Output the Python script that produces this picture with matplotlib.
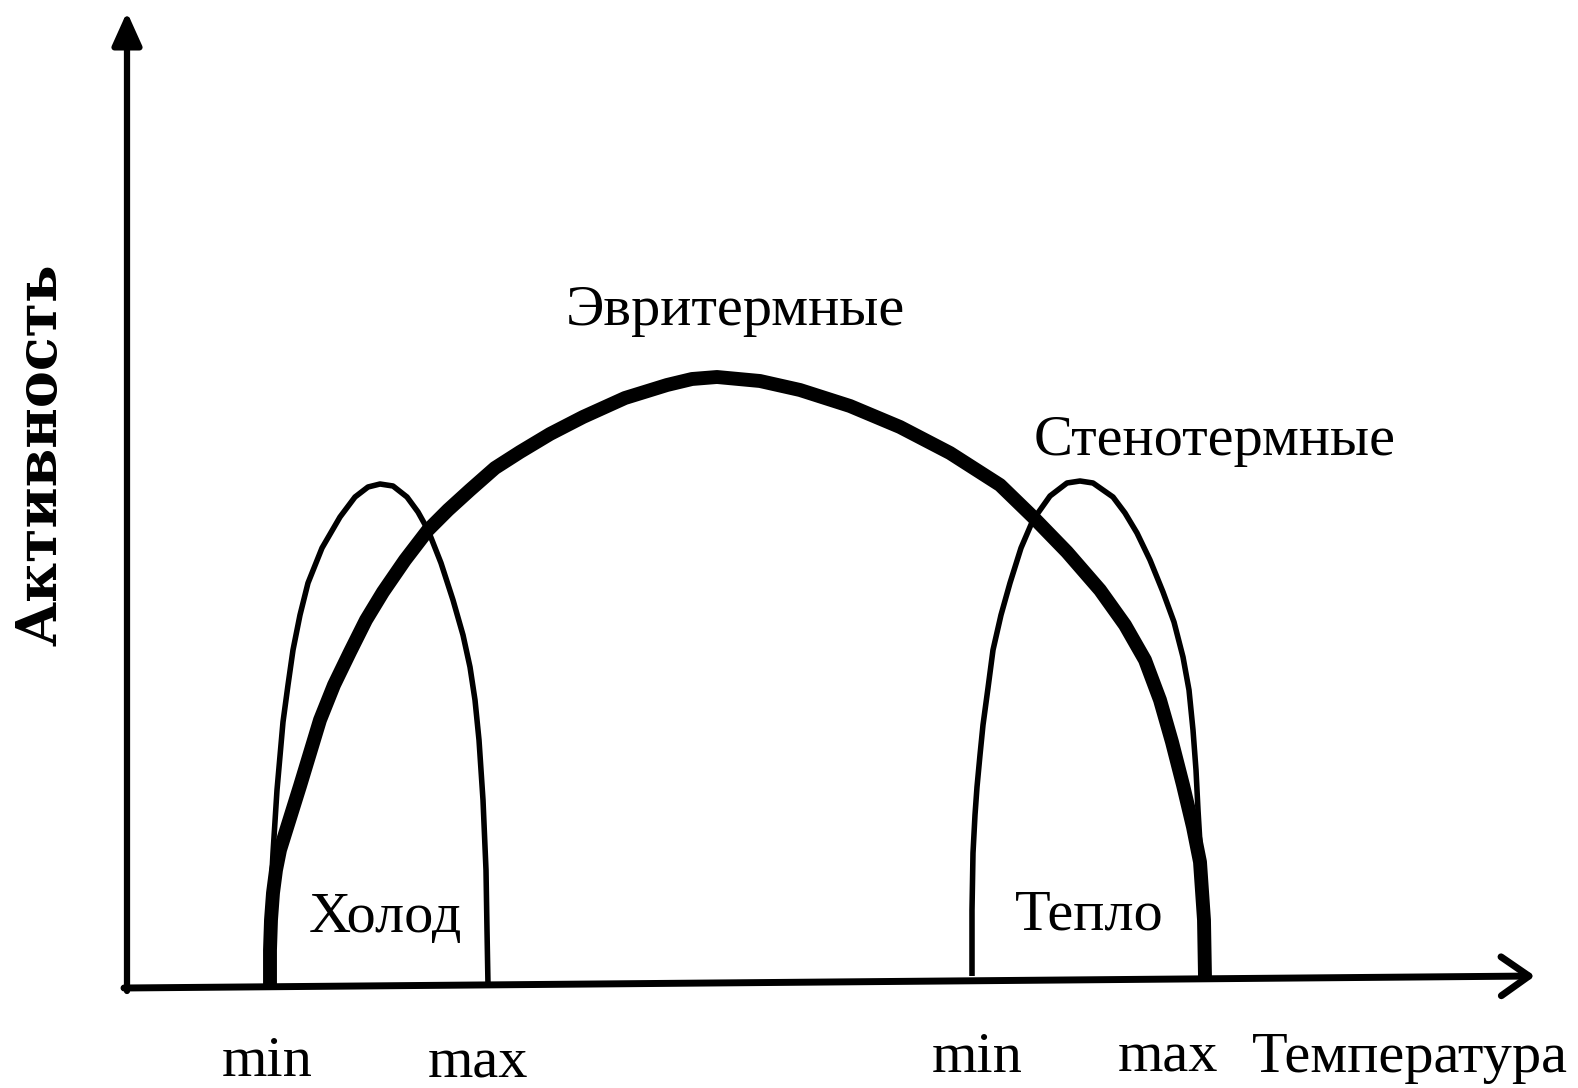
import matplotlib
matplotlib.use("Agg")
import matplotlib.pyplot as plt

# Schematic: thermal tolerance curves (temperature vs activity)
# x = temperature, y = activity (arbitrary units)

# Эвритермные (wide range, thick line)
eury_t = [143, 143, 144, 146, 149, 153, 163, 173, 183, 193, 207, 223, 239,
          256, 278, 301, 321, 343, 368, 393, 423, 456, 498, 540, 565, 590,
          633, 673, 723, 773, 823, 873, 906, 940, 973, 998, 1018, 1033,
          1045, 1056, 1066, 1073, 1077, 1078]
eury_a = [3, 38, 68, 95, 118, 138, 170, 202, 235, 268, 303, 336, 368,
          396, 428, 458, 478, 498, 520, 536, 554, 571, 590, 603, 609, 611,
          607, 598, 582, 561, 535, 503, 471, 436, 398, 363, 328, 288,
          246, 203, 161, 126, 68, 11]

# Стенотермные, cold ("Холод")
cold_t = [143, 143, 144, 146, 150, 156, 161, 166, 173, 181, 195, 213, 228,
          241, 253, 266, 280, 291, 301, 314, 326, 336, 343, 348, 352, 356,
          359, 360, 361]
cold_a = [3, 58, 98, 135, 198, 266, 303, 338, 373, 405, 440, 471, 491,
          501, 504, 502, 491, 476, 458, 425, 388, 353, 321, 288, 248, 188,
          118, 58, 3]

# Стенотермные, warm ("Тепло")
warm_t = [845, 845, 846, 848, 850, 853, 856, 861, 866, 874, 883, 894, 906,
          923, 940, 953, 966, 986, 998, 1010, 1023, 1036, 1047, 1056, 1062,
          1066, 1069, 1071, 1074, 1076, 1078]
warm_a = [12, 78, 135, 173, 201, 233, 263, 300, 338, 373, 405, 440, 468,
          492, 505, 507, 505, 491, 475, 455, 428, 396, 366, 331, 298,
          258, 218, 178, 128, 68, 11]

# min / max marks under the axis
limit_labels = ["min", "max", "min", "max"]
limit_t = [140, 351, 850, 1041]
limit_a = [-88, -90, -84, -84]

serif = ["Liberation Serif", "DejaVu Serif"]

fig = plt.figure(figsize=(15.78, 10.88), dpi=100)
ax = fig.add_axes([0, 0, 1, 1])
ax.set_xlim(-127, 1451)
ax.set_ylim(-100, 988)
ax.axis("off")

# axes with arrows
ax.annotate("", xy=(0, 976), xytext=(0, -3),
            arrowprops=dict(arrowstyle="-|>,head_length=1.0,head_width=0.45",
                            mutation_scale=20, lw=4.5, color="black",
                            shrinkA=0, shrinkB=0))
ax.annotate("", xy=(1408, 12), xytext=(-3, 0),
            arrowprops=dict(arrowstyle="->,head_length=1.0,head_width=0.7",
                            mutation_scale=20, lw=5, color="black",
                            shrinkA=0, shrinkB=0))

ax.plot(cold_t, cold_a, color="black", lw=4, solid_joinstyle="round",
        solid_capstyle="butt")
ax.plot(warm_t, warm_a, color="black", lw=4, solid_joinstyle="round",
        solid_capstyle="butt")
ax.plot(eury_t, eury_a, color="black", lw=10, solid_joinstyle="round",
        solid_capstyle="butt")

fs = 42
ax.text(608, 663, "Эвритермные", family=serif, fontsize=fs, ha="center", va="baseline")
ax.text(1088, 533, "Стенотермные", family=serif, fontsize=fs, ha="center", va="baseline")
ax.text(259, 56, "Холод", family=serif, fontsize=fs, ha="center", va="baseline")
ax.text(962, 58, "Тепло", family=serif, fontsize=fs, ha="center", va="baseline")
for lab, t, a in zip(limit_labels, limit_t, limit_a):
    ax.text(t, a, lab, family=serif, fontsize=fs, ha="center", va="baseline")
ax.text(1283, -84, "Температура", family=serif, fontsize=fs, ha="center", va="baseline")
ax.text(-86, 533, "Активность", family=["DejaVu Serif"], fontweight="bold",
        fontsize=40, rotation=90, ha="center", va="center")

fig.savefig("out.png", dpi=100, facecolor="white")
